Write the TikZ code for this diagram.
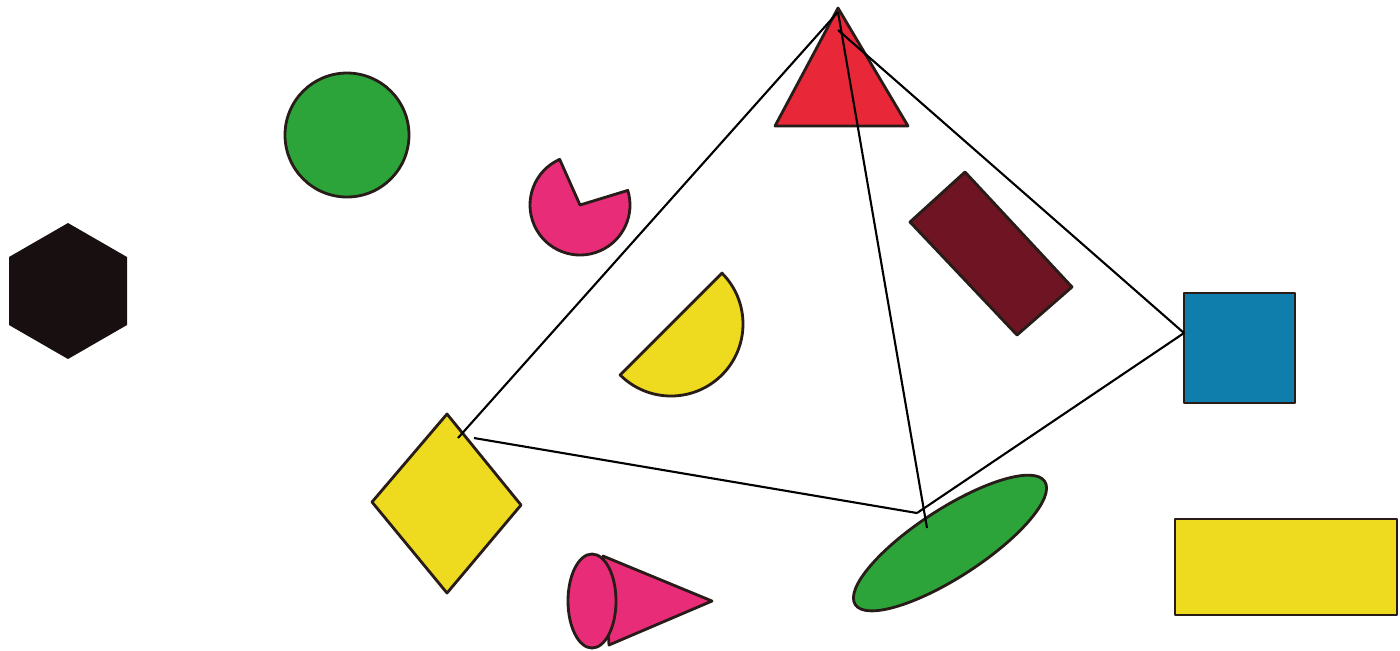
\documentclass[tikz,border=0pt]{standalone}
\definecolor{hexblack}{RGB}{24,16,16}
\definecolor{shapegreen}{RGB}{44,164,58}
\definecolor{shapepink}{RGB}{232,44,120}
\definecolor{shapeyellow}{RGB}{238,218,30}
\definecolor{shapered}{RGB}{232,40,56}
\definecolor{shapemaroon}{RGB}{110,20,34}
\definecolor{shapeblue}{RGB}{16,126,172}
\definecolor{rim}{RGB}{40,28,24}
\tikzset{
  solid shape/.style={draw=rim,line width=.8pt,line join=round},
  edge line/.style={draw=black,line width=.6pt}
}
\begin{document}
\begin{tikzpicture}[x=.01cm,y=-.01cm]
  \useasboundingbox[fill=white] (0,0) rectangle (1400,650);
  \coordinate (apex) at (838,12);
  \coordinate (apexr) at (838,30);
  \coordinate (dtop) at (458,438);
  \coordinate (dright) at (474,438);
  \coordinate (etop) at (917,513);
  \coordinate (emid) at (927,528);
  \coordinate (sqleft) at (1184,333);
  \fill[hexblack] (68,223)--(127,257)--(127,325)--(68,359)--(9,325)--(9,257)--cycle;
  \draw[solid shape,fill=shapegreen] (347,135) circle[radius=62];
  \draw[solid shape,fill=shapepink] (580,205)--++(-114:50) arc[start angle=-114,end angle=-377,radius=50]--cycle;
  \draw[solid shape,fill=shapeyellow] (671,324)++(-45:72) arc[start angle=-45,end angle=135,radius=72]--cycle;
  \draw[solid shape,fill=shapered] (838,8)--(908,126)--(775,126)--cycle;
  \draw[solid shape,fill=shapemaroon] (965,172)--(1072,287)--(1017,335)--(910,222)--cycle;
  \draw[solid shape,fill=shapeblue] (1184,293) rectangle (1295,403);
  \draw[solid shape,fill=shapeyellow] (447,414)--(521,505)--(447,593)--(372,502)--cycle;
  \draw[solid shape,fill=shapepink] (603,556)--(712,601)--(609,645)--cycle;
  \draw[solid shape,fill=shapepink] (592,601) ellipse[x radius=24,y radius=47];
  \draw[solid shape,fill=shapegreen,rotate around={33:(950,543)}] (950,543) ellipse[x radius=113,y radius=34];
  \draw[solid shape,fill=shapeyellow] (1175,519) rectangle (1397,615);
  \draw[edge line] (apex)--(dtop);
  \draw[edge line] (apex)--(emid);
  \draw[edge line] (apexr)--(sqleft);
  \draw[edge line] (dright)--(etop);
  \draw[edge line] (etop)--(sqleft);
\end{tikzpicture}
\end{document}
